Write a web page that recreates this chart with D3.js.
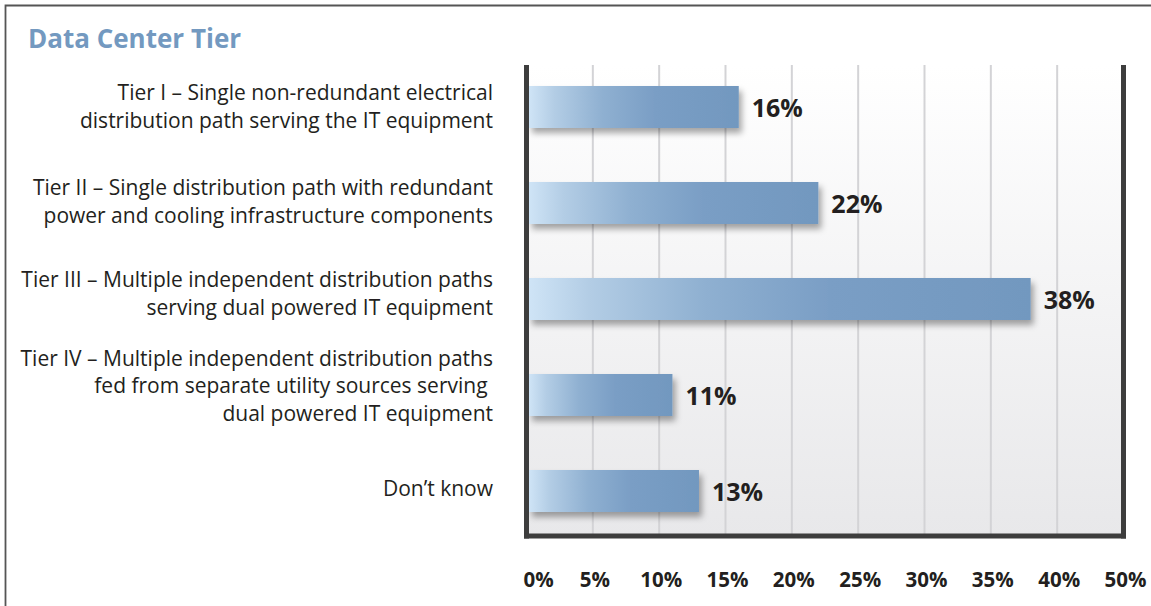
<!DOCTYPE html>
<html>
<head>
<meta charset="utf-8">
<script src="https://cdn.jsdelivr.net/npm/d3@7"></script>
<style>
  html, body { margin: 0; padding: 0; background: #fff; }
  svg { display: block; }
  text { white-space: pre; }
</style>
</head>
<body>
<svg id="chart" width="1151" height="606"></svg>
<script>
const title = "Data Center Tier";
const categories = ["Tier I", "Tier II", "Tier III", "Tier IV", "Don't know"];
const categoryLines = [
  ["Tier I – Single non-redundant electrical", "distribution path serving the IT equipment"],
  ["Tier II – Single distribution path with redundant", "power and cooling infrastructure components"],
  ["Tier III – Multiple independent distribution paths", "serving dual powered IT equipment"],
  ["Tier IV – Multiple independent distribution paths", "fed from separate utility sources serving ", "dual powered IT equipment"],
  ["Don’t know"]
];
const values = [16, 22, 38, 11, 13];
const gridValues = [5, 10, 15, 20, 25, 30, 35, 40];
const tickLabels = ["0%", "5%", "10%", "15%", "20%", "25%", "30%", "35%", "40%", "50%"];

const svg = d3.select("#chart");
const W = 1151, H = 606;

const plot = { left: 526.5, right: 1123.5, top: 65, bottom: 536 };

const x = d3.scaleLinear().domain([0, 45]).range([plot.left, plot.right]);
const y = d3.scaleBand().domain(categories).range([59, 539]).paddingInner(0.5625).paddingOuter(0.28125);

const defs = svg.append("defs");
const bg = defs.append("linearGradient").attr("id", "bgGrad").attr("x1", 0).attr("y1", 0).attr("x2", 0).attr("y2", 1);
bg.append("stop").attr("offset", "0%").attr("stop-color", "#ffffff");
bg.append("stop").attr("offset", "100%").attr("stop-color", "#e8e8ea");

const bgr = defs.append("linearGradient").attr("id", "barGrad").attr("x1", 0).attr("y1", 0).attr("x2", 1).attr("y2", 0);
[["0%", "#cfe4f6"], ["12%", "#b3cde5"], ["35%", "#8fb0d1"], ["60%", "#7a9ec5"], ["100%", "#7298bf"]].forEach(([o, c]) =>
  bgr.append("stop").attr("offset", o).attr("stop-color", c));

const sh = defs.append("filter").attr("id", "shadow").attr("x", "-10%").attr("y", "-30%").attr("width", "130%").attr("height", "180%");
sh.append("feDropShadow").attr("dx", 3).attr("dy", 5).attr("stdDeviation", 3).attr("flood-color", "#000").attr("flood-opacity", 0.35);

// outer frame
svg.append("path").attr("d", `M5.5,${H} V5.5 H${W}`).attr("fill", "none").attr("stroke", "#555").attr("stroke-width", 1.8);

// title
svg.append("text").attr("x", 28).attr("y", 48).text(title)
  .attr("font-family", "Open Sans").attr("font-weight", 700).attr("font-size", 26).attr("fill", "#7399c0");

// plot background
svg.append("rect").attr("x", plot.left).attr("y", plot.top).attr("width", plot.right - plot.left).attr("height", plot.bottom - plot.top)
  .attr("fill", "url(#bgGrad)");

// gridlines
svg.append("g").selectAll("line").data(gridValues).join("line")
  .attr("x1", d => x(d)).attr("x2", d => x(d)).attr("y1", plot.top).attr("y2", plot.bottom)
  .attr("stroke", "#d3d3d6").attr("stroke-width", 2);

// bars
svg.append("g").selectAll("rect").data(values).join("rect")
  .attr("x", x(0) + 2.5).attr("y", (d, i) => y(categories[i]))
  .attr("width", d => x(d) - x(0) - 2.5).attr("height", y.bandwidth())
  .attr("fill", "url(#barGrad)").attr("filter", "url(#shadow)");

// axis frame lines
const ax = svg.append("g").attr("stroke", "#3d3d3d").attr("stroke-width", 5);
ax.append("line").attr("x1", plot.left).attr("x2", plot.left).attr("y1", plot.top).attr("y2", plot.bottom + 2.5);
ax.append("line").attr("x1", plot.right).attr("x2", plot.right).attr("y1", plot.top).attr("y2", plot.bottom + 2.5);
ax.append("line").attr("x1", plot.left - 2.5).attr("x2", plot.right + 2.5).attr("y1", plot.bottom).attr("y2", plot.bottom);

// value labels
svg.append("g").selectAll("text").data(values).join("text")
  .attr("x", d => x(d) + 13).attr("y", (d, i) => y(categories[i]) + y.bandwidth() / 2 + 10)
  .text(d => d + "%")
  .attr("font-family", "Open Sans").attr("font-weight", 700).attr("font-size", 25).attr("fill", "#231f20");

// category labels
const lh = 27.5;
const labelShift = [0, -1, -5, -9, -2];
const cg = svg.append("g");
categoryLines.forEach((lines, i) => {
  const cy = y(categories[i]) + y.bandwidth() / 2 + labelShift[i];
  const startY = cy - (lines.length - 1) * lh / 2 + 7;
  const t = cg.append("text").attr("text-anchor", "end")
    .attr("font-family", "Open Sans").attr("font-size", 21).attr("fill", "#231f20");
  lines.forEach((ln, j) => {
    t.append("tspan").attr("x", 493).attr("y", startY + j * lh).text(ln);
  });
});

// x tick labels
svg.append("g").selectAll("text").data(tickLabels).join("text")
  .attr("x", (d, i) => i === 0 ? x(0) - 3 : x(i * 5) + 2)
  .attr("y", 587)
  .attr("text-anchor", (d, i) => i === 0 ? "start" : "middle")
  .text(d => d)
  .attr("font-family", "Open Sans").attr("font-weight", 700).attr("font-size", 20.5).attr("fill", "#231f20");
</script>
</body>
</html>
